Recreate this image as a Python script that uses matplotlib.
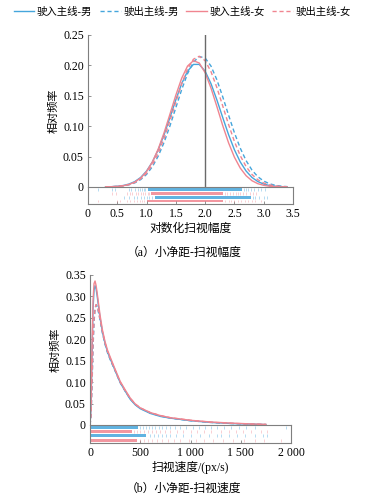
import matplotlib
matplotlib.use("Agg")
import matplotlib.pyplot as plt
import numpy as np

plt.rcParams['font.family'] = ['Liberation Serif', 'Noto Sans CJK SC', 'DejaVu Sans']

labels = ['驶入主线-男', '驶出主线-男', '驶入主线-女', '驶出主线-女']

# (a) log saccade amplitude, relative frequency curves
amp_x = [0.3, 0.4, 0.5, 0.6, 0.7, 0.8, 0.9, 1.0, 1.1, 1.2, 1.3, 1.4, 1.5, 1.6, 1.7,
         1.8, 1.9, 2.0, 2.1, 2.2, 2.3, 2.4, 2.5, 2.6, 2.7, 2.8, 2.9, 3.0, 3.1, 3.2,
         3.3, 3.4]
amp_in_m = [0.0002, 0.0005, 0.0012, 0.0024, 0.0048, 0.0089, 0.0157, 0.0262, 0.0412,
            0.0613, 0.0862, 0.1144, 0.1435, 0.1700, 0.1904, 0.2016, 0.2016, 0.1904,
            0.1700, 0.1435, 0.1144, 0.0862, 0.0613, 0.0412, 0.0262, 0.0157, 0.0089,
            0.0048, 0.0024, 0.0012, 0.0005, 0.0002]
amp_out_m = [0.0002, 0.0004, 0.0009, 0.0018, 0.0036, 0.0068, 0.0122, 0.0207, 0.0334,
             0.0509, 0.0735, 0.1006, 0.1304, 0.1602, 0.1864, 0.2054, 0.2145, 0.2122,
             0.1989, 0.1765, 0.1485, 0.1183, 0.0893, 0.0639, 0.0433, 0.0278, 0.0169,
             0.0097, 0.0053, 0.0027, 0.0013, 0.0006]
amp_in_f = [0.0002, 0.0004, 0.0009, 0.0020, 0.0041, 0.0081, 0.0148, 0.0254, 0.0412,
            0.0626, 0.0894, 0.1199, 0.1510, 0.1789, 0.1989, 0.2077, 0.2039, 0.1880,
            0.1628, 0.1325, 0.1012, 0.0727, 0.0490, 0.0311, 0.0185, 0.0103, 0.0054,
            0.0027, 0.0012, 0.0005, 0.0002, 0.0001]
amp_out_f = [0.0002, 0.0004, 0.0009, 0.0019, 0.0039, 0.0074, 0.0134, 0.0228, 0.0367,
             0.0558, 0.0802, 0.1089, 0.1397, 0.1694, 0.1941, 0.2101, 0.2150, 0.2078,
             0.1897, 0.1637, 0.1335, 0.1029, 0.0749, 0.0515, 0.0335, 0.0206, 0.0119,
             0.0065, 0.0034, 0.0017, 0.0008, 0.0003]

# rug rows for (a): dense range + scattered observations
amp_rug_dense = [(1.02, 2.63), (1.08, 2.30), (1.15, 2.78), (1.00, 2.30)]
amp_rug_sparse = [
    [0.17, 0.41, 0.46, 0.70, 0.74, 0.80, 0.85, 0.88, 0.92, 0.95, 0.98, 2.66, 2.70,
     2.74, 2.78, 2.83, 2.90, 2.96, 3.02],
    [0.41, 0.47, 0.66, 0.72, 0.76, 0.82, 0.86, 0.90, 0.94, 0.98, 1.02, 1.05, 2.34,
     2.38, 2.42, 2.47, 2.52, 2.56, 2.60, 2.65, 2.70, 2.76, 2.82, 2.87],
    [0.62, 0.70, 0.78, 0.84, 0.90, 0.96, 1.00, 1.05, 1.10, 2.82, 2.86, 2.92, 3.00,
     3.05],
    [0.17, 0.50, 0.55, 0.66, 0.72, 0.78, 0.83, 0.88, 0.92, 0.96, 2.34, 2.40, 2.45,
     2.50, 2.56, 2.62, 2.68, 2.74, 2.80, 2.86, 2.95],
]

# (b) saccade velocity (px/s)
vel_x = [0, 10, 20, 30, 40, 50, 60, 70, 80, 100, 125, 150, 175, 200, 250, 300, 350,
         400, 450, 500, 600, 700, 800, 1000, 1200, 1400, 1600, 1750]
vel_in_m = [0, 0.04, 0.16, 0.27, 0.315, 0.325, 0.318, 0.303, 0.285, 0.250, 0.215,
            0.190, 0.170, 0.155, 0.127, 0.099, 0.079, 0.060, 0.047, 0.038, 0.027,
            0.020, 0.016, 0.010, 0.006, 0.0035, 0.002, 0.001]
vel_out_m = [0, 0.02, 0.09, 0.18, 0.240, 0.270, 0.280, 0.277, 0.268, 0.245, 0.213,
             0.188, 0.168, 0.153, 0.126, 0.099, 0.079, 0.061, 0.048, 0.039, 0.028,
             0.021, 0.016, 0.010, 0.006, 0.0035, 0.002, 0.001]
vel_in_f = [0, 0.05, 0.19, 0.29, 0.330, 0.336, 0.326, 0.310, 0.292, 0.256, 0.220,
            0.194, 0.174, 0.159, 0.130, 0.102, 0.082, 0.063, 0.049, 0.040, 0.029,
            0.022, 0.017, 0.011, 0.007, 0.0045, 0.0025, 0.0015]
vel_out_f = [0, 0.02, 0.10, 0.19, 0.245, 0.272, 0.281, 0.278, 0.270, 0.247, 0.216,
             0.191, 0.171, 0.156, 0.128, 0.100, 0.080, 0.062, 0.049, 0.040, 0.029,
             0.022, 0.017, 0.011, 0.0065, 0.004, 0.0022, 0.0012]

vel_rug_dense = [(0, 480), (0, 420), (0, 560), (0, 470)]
vel_rug_sparse = [
    [500, 530, 560, 590, 620, 650, 690, 720, 760, 800, 850, 900, 960, 1020, 1080,
     1140, 1200, 1260, 1330, 1400, 1480, 1550, 1640, 1950],
    [440, 470, 500, 540, 580, 620, 660, 700, 750, 800, 870, 930, 1000, 1060, 1130,
     1200, 1300, 1380, 1450, 1520, 1600, 1700, 1760],
    [600, 640, 680, 720, 760, 800, 860, 930, 1000, 1090, 1180, 1260, 1300, 1380,
     1460, 1540, 1640, 1720, 1760],
    [500, 540, 580, 620, 670, 720, 780, 840, 900, 980, 1050, 1130, 1220, 1320, 1420,
     1530, 1640, 1730, 1900],
]

BLUE = '#45a6dc'
PINK = '#f08590'
GRAY = '#7f7f7f'
FS = 8.5


def draw_panel(fig, main_rect, rug_rect, x, series, dense, sparse, xlim, ylim,
               yticks, xticks, xticklabels, rug_rows):
    ax = fig.add_axes(main_rect)
    styles = [(BLUE, '-'), (BLUE, (0, (3, 2))), (PINK, '-'), (PINK, (0, (3, 2)))]
    lines = []
    for ys, (c, ls), lab in zip(series, styles, labels):
        ln, = ax.plot(x, ys, color=c, ls=ls, lw=1.0, label=lab)
        lines.append(ln)
    ax.set_xlim(xlim)
    ax.set_ylim(ylim)
    ax.set_xticks([])
    ax.set_yticks(yticks)
    ax.set_yticklabels(['0' if t == 0 else '%.2f' % t for t in yticks], fontsize=FS)
    ax.tick_params(axis='y', direction='in', length=2, width=0.6, colors=GRAY,
                   labelcolor='black', pad=3)
    for s in ['top', 'right', 'bottom']:
        ax.spines[s].set_visible(False)
    ax.spines['left'].set_color(GRAY)
    ax.spines['left'].set_linewidth(0.8)
    ax.set_ylabel('相对频率', fontsize=8, labelpad=3)

    rug = fig.add_axes(rug_rect)
    rug.set_xlim(xlim)
    rug.set_ylim(1, 0)
    rug_colors = [BLUE, PINK, BLUE, PINK]
    h = 0.16
    for yr, c, (d0, d1), sp in zip(rug_rows, rug_colors, dense, sparse):
        rug.fill_between([d0, d1], yr - h / 2, yr + h / 2, color=c, lw=0, alpha=0.85)
        rug.vlines(sp, yr - h / 2, yr + h / 2, color=c, lw=0.5, alpha=0.55)
    rug.set_yticks([])
    rug.set_xticks(xticks)
    rug.set_xticklabels(xticklabels, fontsize=FS)
    rug.tick_params(axis='x', direction='in', length=2.5, width=0.6, colors=GRAY,
                    labelcolor='black', pad=3)
    for s in rug.spines.values():
        s.set_color(GRAY)
        s.set_linewidth(0.8)
    return ax, lines


def make_figure():
    fig = plt.figure(figsize=(3.68, 4.99), dpi=100)

    ax_a, lines = draw_panel(
        fig, [0.2391, 0.6253, 0.557, 0.3046], [0.2391, 0.5912, 0.557, 0.0341],
        amp_x, [amp_in_m, amp_out_m, amp_in_f, amp_out_f],
        amp_rug_dense, amp_rug_sparse, (0, 3.5), (0, 0.25),
        [0, 0.05, 0.10, 0.15, 0.20, 0.25],
        [0, 0.5, 1.0, 1.5, 2.0, 2.5, 3.0, 3.5],
        ['0', '0.5', '1.0', '1.5', '2.0', '2.5', '3.0', '3.5'],
        [0.14, 0.37, 0.6, 0.83])
    ax_a.axvline(2.0, color='#6a6a6a', lw=1.0)

    draw_panel(
        fig, [0.2446, 0.1483, 0.5462, 0.3006], [0.2446, 0.1122, 0.5462, 0.0361],
        vel_x, [vel_in_m, vel_out_m, vel_in_f, vel_out_f],
        vel_rug_dense, vel_rug_sparse, (0, 2000), (0, 0.35),
        [0, 0.05, 0.10, 0.15, 0.20, 0.25, 0.30, 0.35],
        [0, 500, 1000, 1500, 2000],
        ['0', '500', '1 000', '1 500', '2 000'],
        [0.12, 0.35, 0.6, 0.84])

    fig.text(0.518, 1 - 229 / 499, '对数化扫视幅度', ha='center', va='center', fontsize=8.5)
    fig.text(0.500, 1 - 253 / 499, '（a）小净距-扫视幅度', ha='center', va='center', fontsize=8.5)
    fig.text(0.518, 1 - 467 / 499, '扫视速度/(px/s)', ha='center', va='center', fontsize=8.5)
    fig.text(0.500, 1 - 489 / 499, '（b）小净距-扫视速度', ha='center', va='center', fontsize=8.5)

    fig.legend(handles=lines, loc='center', bbox_to_anchor=(0.495, 1 - 12 / 499),
               ncol=4, frameon=False, fontsize=7.5, handlelength=2.0,
               handletextpad=0.25, columnspacing=0.7)

    fig.savefig('out.png', dpi=100)


if __name__ == "__main__":
    make_figure()
